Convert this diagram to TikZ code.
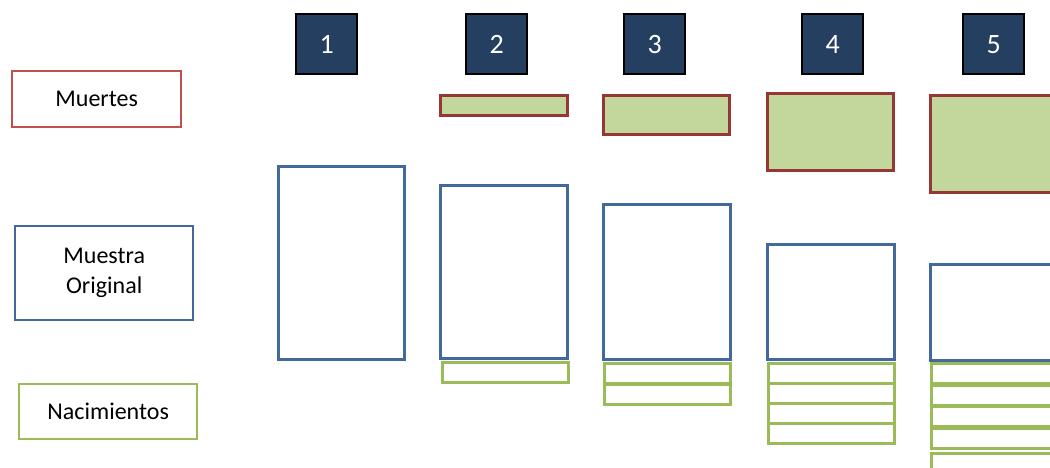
\documentclass[tikz,border=0pt]{standalone}
\usepackage{fontspec}
\setmainfont{Carlito}
\usepackage{xcolor}
\usetikzlibrary{positioning}
\definecolor{navy}{HTML}{243F60}
\definecolor{legred}{HTML}{C0504D}
\definecolor{deathred}{HTML}{953735}
\definecolor{sampleblue}{HTML}{41699C}
\definecolor{birthgreen}{HTML}{9BBB59}
\definecolor{deathfill}{HTML}{C3D69B}
\tikzset{
  box/.style={draw, fill=white, line width=2.4pt, inner sep=0pt, anchor=north west},
  leg/.style={box, font=\fontsize{24}{30}\selectfont, align=center},
  num/.style={box, draw=black, fill=navy, text=white, font=\fontsize{28}{32}\selectfont,
              minimum width=61, minimum height=60},
  death/.style={box, draw=deathred, fill=deathfill, line width=2.8pt},
  sample/.style={box, draw=sampleblue, line width=2.8pt},
  birth/.style={box, draw=birthgreen, line width=2.6pt, minimum height=20},
}

\begin{document}
\begin{tikzpicture}[x=1pt, y=-1pt]
\useasboundingbox (0,0) rectangle (1050,468);
\clip (0,0) rectangle (1050,468);

% legend
\node[leg, draw=legred, minimum width=169, minimum height=56] (lmu) at (11,70) {Muertes};
\node[leg, draw=sampleblue, minimum width=178, minimum height=94] (lor) at (14,225) {Muestra\\Original};
\node[leg, draw=birthgreen, minimum width=178, minimum height=55] (lna) at (18,383) {Nacimientos};

% steps
\node[num] (n1) at (295,13) {1};
\node[num] (n2) at (465,13) {2};
\node[num] (n3) at (623,13) {3};
\node[num] (n4) at (801,13) {4};
\node[num] (n5) at (962,13) {5};

% deaths
\node[death, minimum width=127, minimum height=20] (d2) at (439,94) {};
\node[death, minimum width=126, minimum height=39] (d3) at (602,94) {};
\node[death, minimum width=126, minimum height=77] (d4) at (766,92) {};
\node[death, minimum width=127, minimum height=97] (d5) at (929,94) {};

% original sample
\node[sample, minimum width=126, minimum height=193] (s1) at (277,165) {};
\node[sample, minimum width=127, minimum height=173] (s2) at (439,184) {};
\node[sample, minimum width=127, minimum height=155] (s3) at (602,203) {};
\node[sample, minimum width=127, minimum height=115] (s4) at (766,243) {};
\node[sample, minimum width=127, minimum height=96] (s5) at (929,263) {};

% births
\node[birth, minimum width=126] (b2-1) at (441,361) {};
\foreach \y [count=\i] in {362,383}
  \node[birth, minimum width=126] (b3-\i) at (603,\y) {};
\foreach \y [count=\i] in {362,382,402,422}
  \node[birth, minimum width=126] (b4-\i) at (767,\y) {};
\foreach \y [count=\i] in {362,384,405,427,452}
  \node[birth, minimum width=127] (b5-\i) at (930,\y) {};
\end{tikzpicture}
\end{document}
